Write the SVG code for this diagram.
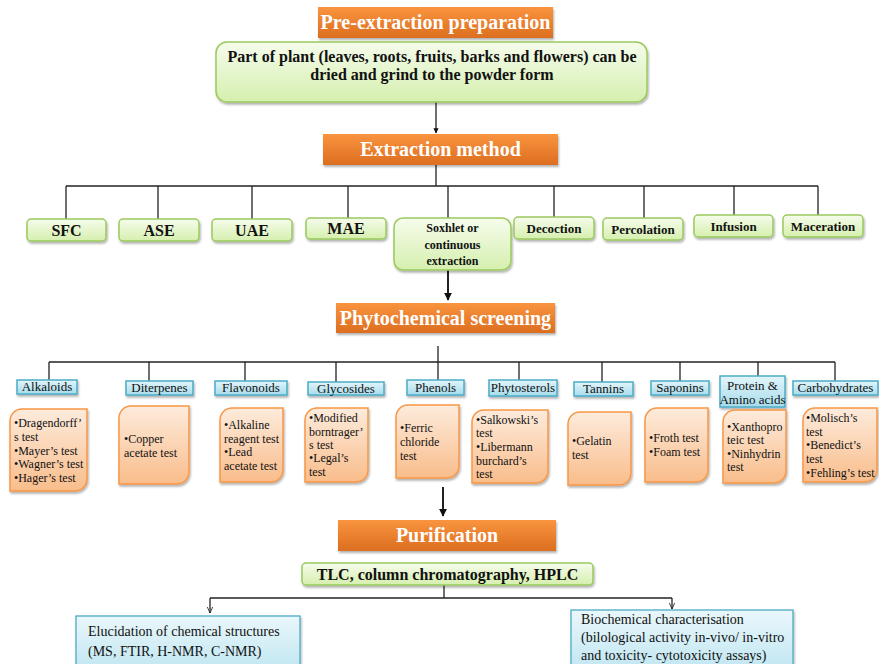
<svg xmlns="http://www.w3.org/2000/svg" width="879" height="664" viewBox="0 0 879 664" font-family="'Liberation Serif', 'Times New Roman', 'DejaVu Serif', serif">
  <defs>
    <linearGradient id="gOrange" x1="0" y1="0" x2="0" y2="1">
      <stop offset="0" stop-color="#F9943F"/>
      <stop offset="1" stop-color="#DC6E20"/>
    </linearGradient>
    <linearGradient id="gGreen" x1="0" y1="0" x2="0" y2="1">
      <stop offset="0" stop-color="#F6FCEC"/>
      <stop offset="1" stop-color="#D5EFAE"/>
    </linearGradient>
    <linearGradient id="gBlue" x1="0" y1="0" x2="0" y2="1">
      <stop offset="0" stop-color="#E3F5FA"/>
      <stop offset="1" stop-color="#A6DCEC"/>
    </linearGradient>
    <linearGradient id="gPeach" x1="0" y1="0" x2="0" y2="1">
      <stop offset="0" stop-color="#FDEBDC"/>
      <stop offset="1" stop-color="#F9BD8B"/>
    </linearGradient>
    <linearGradient id="gCyan" x1="0" y1="0" x2="0" y2="1">
      <stop offset="0" stop-color="#EAF7FB"/>
      <stop offset="1" stop-color="#C2E7F2"/>
    </linearGradient>
    <filter id="shadow" x="-10%" y="-20%" width="125%" height="150%">
      <feDropShadow dx="1" dy="2" stdDeviation="1.2" flood-color="#000" flood-opacity="0.3"/>
    </filter>
    <marker id="arrow" viewBox="0 0 10 10" refX="9" refY="5" markerWidth="4" markerHeight="4" orient="auto">
      <path d="M0,0 L10,5 L0,10 Z" fill="#111"/>
    </marker>
    <marker id="openArrow" viewBox="0 0 10 10" refX="9" refY="5" markerWidth="7" markerHeight="7" orient="auto" markerUnits="userSpaceOnUse">
      <path d="M0,1 L9,5 L0,9" fill="none" stroke="#222" stroke-width="1.2"/>
    </marker>
    <style>
      text { font-family: "Liberation Serif", "Times New Roman", "DejaVu Serif", serif; }
      .hdr { fill: url(#gOrange); filter: url(#shadow); }
      .hdrText { font-weight: bold; font-size: 20px; fill: #fff; text-anchor: middle; }
      .green { fill: url(#gGreen); stroke: #9BC95E; stroke-width: 1.5; filter: url(#shadow); }
      .greenText { font-weight: bold; fill: #111; text-anchor: middle; }
      .cls { fill: url(#gBlue); stroke: #4BACC6; stroke-width: 1.5; filter: url(#shadow); }
      .clsText { font-size: 13px; fill: #111; text-anchor: middle; }
      .test { fill: url(#gPeach); stroke: #F79646; stroke-width: 1.5; filter: url(#shadow); }
      .testText { font-size: 12px; fill: #111; }
      .out { fill: url(#gCyan); stroke: #4BACC6; stroke-width: 1.3; filter: url(#shadow); }
      .outText { font-size: 14px; fill: #111; }
      .wire { stroke: #222; stroke-width: 1.3; fill: none; }
      .wireBold { stroke: #222; stroke-width: 2; fill: none; }
    </style>
  </defs>

  <rect width="879" height="664" fill="#fff"/>

  <!-- connectors -->
  <g id="connectors">
    <line class="wire" x1="436" y1="102" x2="436" y2="133" marker-end="url(#arrow)" stroke-width="1.6"/>
    <line class="wire" x1="436" y1="165" x2="436" y2="186"/>
    <line class="wire" x1="66" y1="186" x2="818" y2="186"/>
    <line class="wire" x1="66" y1="186" x2="66" y2="219"/>
    <line class="wire" x1="158" y1="186" x2="158" y2="219"/>
    <line class="wire" x1="252" y1="186" x2="252" y2="219"/>
    <line class="wire" x1="348" y1="186" x2="348" y2="218"/>
    <line class="wire" x1="448" y1="186" x2="448" y2="218"/>
    <line class="wire" x1="554" y1="186" x2="554" y2="217"/>
    <line class="wire" x1="644" y1="186" x2="644" y2="218"/>
    <line class="wire" x1="734" y1="186" x2="734" y2="215"/>
    <line class="wire" x1="818" y1="186" x2="818" y2="215"/>
    <line class="wireBold" x1="448" y1="270" x2="448" y2="300" marker-end="url(#arrow)"/>
    <line class="wire" x1="438" y1="346" x2="438" y2="362"/>
    <line class="wire" x1="49" y1="362" x2="835" y2="362"/>
    <line class="wire" x1="49" y1="362" x2="49" y2="380"/>
    <line class="wire" x1="149" y1="362" x2="149" y2="381"/>
    <line class="wire" x1="245" y1="362" x2="245" y2="381"/>
    <line class="wire" x1="336" y1="362" x2="336" y2="382"/>
    <line class="wire" x1="438" y1="362" x2="438" y2="380"/>
    <line class="wire" x1="519" y1="362" x2="519" y2="380"/>
    <line class="wire" x1="602" y1="362" x2="602" y2="382"/>
    <line class="wire" x1="680" y1="362" x2="680" y2="381"/>
    <line class="wire" x1="758" y1="362" x2="758" y2="376"/>
    <line class="wire" x1="835" y1="362" x2="835" y2="381"/>
    <line class="wireBold" x1="443" y1="487" x2="443" y2="516" marker-end="url(#arrow)"/>
    <line class="wire" x1="444" y1="585" x2="444" y2="598"/>
    <line class="wire" x1="210" y1="598" x2="672" y2="598"/>
    <line class="wire" x1="210" y1="598" x2="210" y2="613" marker-end="url(#openArrow)"/>
    <line class="wire" x1="672" y1="598" x2="672" y2="609" marker-end="url(#openArrow)"/>
  </g>

  <!-- stage headers -->
  <g id="pre-extraction">
    <rect class="hdr" x="318" y="7" width="235" height="31"/>
    <text class="hdrText" x="435.5" y="29">Pre-extraction preparation</text>
  </g>
  <g id="plant-part">
    <rect class="green" x="216" y="42" width="431" height="60" rx="11"/>
    <text class="greenText" font-size="16" x="432" y="62">Part of plant (leaves, roots, fruits, barks and flowers) can be</text>
    <text class="greenText" font-size="16" x="432" y="80">dried and grind to the powder form</text>
  </g>
  <g id="extraction-method">
    <rect class="hdr" x="323" y="134" width="235" height="31"/>
    <text class="hdrText" x="440.5" y="156">Extraction method</text>
  </g>

  <!-- extraction techniques -->
  <g id="sfc"><rect class="green" x="27" y="219" width="79" height="22" rx="4"/><text class="greenText" font-size="16" x="66.5" y="236">SFC</text></g>
  <g id="ase"><rect class="green" x="119" y="219" width="80" height="22" rx="4"/><text class="greenText" font-size="16" x="159" y="236">ASE</text></g>
  <g id="uae"><rect class="green" x="212" y="219" width="80" height="22" rx="4"/><text class="greenText" font-size="16" x="252" y="236">UAE</text></g>
  <g id="mae"><rect class="green" x="306" y="218" width="80" height="21" rx="4"/><text class="greenText" font-size="16" x="346" y="234">MAE</text></g>
  <g id="soxhlet">
    <rect class="green" x="394" y="218" width="117" height="52" rx="9"/>
    <text class="greenText" font-size="12" x="452.5" y="232">Soxhlet or</text>
    <text class="greenText" font-size="12" x="452.5" y="249">continuous</text>
    <text class="greenText" font-size="12" x="452.5" y="265">extraction</text>
  </g>
  <g id="decoction"><rect class="green" x="514" y="217" width="80" height="22" rx="4"/><text class="greenText" font-size="13" x="554" y="233">Decoction</text></g>
  <g id="percolation"><rect class="green" x="603" y="218" width="80" height="22" rx="4"/><text class="greenText" font-size="13" x="643" y="234">Percolation</text></g>
  <g id="infusion"><rect class="green" x="694" y="215" width="79" height="22" rx="4"/><text class="greenText" font-size="13" x="733.5" y="231">Infusion</text></g>
  <g id="maceration"><rect class="green" x="783" y="215" width="80" height="22" rx="4"/><text class="greenText" font-size="13" x="823" y="231">Maceration</text></g>

  <g id="phytochemical-screening">
    <rect class="hdr" x="336" y="303" width="219" height="30"/>
    <text class="hdrText" x="445.5" y="325">Phytochemical screening</text>
  </g>

  <!-- compound classes -->
  <g id="alkaloids"><rect class="cls" x="17" y="380" width="60" height="14"/><text class="clsText" font-size="10" x="47" y="391">Alkaloids</text></g>
  <g id="diterpenes"><rect class="cls" x="126" y="381" width="67" height="14"/><text class="clsText" x="159.5" y="392">Diterpenes</text></g>
  <g id="flavonoids"><rect class="cls" x="215" y="381" width="72" height="14"/><text class="clsText" x="251" y="392">Flavonoids</text></g>
  <g id="glycosides"><rect class="cls" x="308" y="382" width="76" height="13"/><text class="clsText" x="346" y="393">Glycosides</text></g>
  <g id="phenols"><rect class="cls" x="407" y="380" width="57" height="15"/><text class="clsText" x="435.5" y="392">Phenols</text></g>
  <g id="phytosterols"><rect class="cls" x="489" y="380" width="68" height="16"/><text class="clsText" x="523" y="392">Phytosterols</text></g>
  <g id="tannins"><rect class="cls" x="574" y="382" width="59" height="14"/><text class="clsText" x="603.5" y="393">Tannins</text></g>
  <g id="saponins"><rect class="cls" x="651" y="381" width="58" height="14"/><text class="clsText" x="680" y="392">Saponins</text></g>
  <g id="protein-amino-acids">
    <rect class="cls" x="720" y="376" width="65" height="31"/>
    <text class="clsText" x="752.5" y="390">Protein &amp;</text>
    <text class="clsText" x="752.5" y="404">Amino acids</text>
  </g>
  <g id="carbohydrates"><rect class="cls" x="793" y="381" width="85" height="14"/><text class="clsText" x="835.5" y="392">Carbohydrates</text></g>

  <!-- screening tests -->
  <g id="alkaloid-tests">
    <path class="test" d="M22,409 H87 V479 A12,12 0 0 1 75,491 H10 V421 A12,12 0 0 1 22,409 Z"/>
    <text class="testText" x="14" y="427">•Dragendorff’</text>
    <text class="testText" x="14" y="441">s test</text>
    <text class="testText" x="14" y="455">•Mayer’s test</text>
    <text class="testText" x="14" y="468">•Wagner’s test</text>
    <text class="testText" x="14" y="482">•Hager’s test</text>
  </g>
  <g id="diterpene-tests">
    <path class="test" d="M131,406 H189 V472 A12,12 0 0 1 177,484 H119 V418 A12,12 0 0 1 131,406 Z"/>
    <text class="testText" x="124" y="443">•Copper</text>
    <text class="testText" x="124" y="457">acetate test</text>
  </g>
  <g id="flavonoid-tests">
    <path class="test" d="M232,408 H283 V470 A12,12 0 0 1 271,482 H220 V420 A12,12 0 0 1 232,408 Z"/>
    <text class="testText" x="224" y="429">•Alkaline</text>
    <text class="testText" x="224" y="443">reagent test</text>
    <text class="testText" x="224" y="456">•Lead</text>
    <text class="testText" x="224" y="470">acetate test</text>
  </g>
  <g id="glycoside-tests">
    <path class="test" d="M317,408 H368 V470 A12,12 0 0 1 356,482 H305 V420 A12,12 0 0 1 317,408 Z"/>
    <text class="testText" x="309" y="422">•Modified</text>
    <text class="testText" x="309" y="436">borntrager’</text>
    <text class="testText" x="309" y="449">s test</text>
    <text class="testText" x="309" y="462">•Legal’s</text>
    <text class="testText" x="309" y="476">test</text>
  </g>
  <g id="phenol-tests">
    <path class="test" d="M408,405 H459 V466 A12,12 0 0 1 447,478 H396 V417 A12,12 0 0 1 408,405 Z"/>
    <text class="testText" x="400" y="432">•Ferric</text>
    <text class="testText" x="400" y="446">chloride</text>
    <text class="testText" x="400" y="460">test</text>
  </g>
  <g id="phytosterol-tests">
    <path class="test" d="M484,410 H548 V471 A12,12 0 0 1 536,483 H472 V422 A12,12 0 0 1 484,410 Z"/>
    <text class="testText" x="476" y="424">•Salkowski’s</text>
    <text class="testText" x="476" y="437">test</text>
    <text class="testText" x="476" y="451">•Libermann</text>
    <text class="testText" x="476" y="465">burchard’s</text>
    <text class="testText" x="476" y="478">test</text>
  </g>
  <g id="tannin-tests">
    <path class="test" d="M580,412 H631 V473 A12,12 0 0 1 619,485 H568 V424 A12,12 0 0 1 580,412 Z"/>
    <text class="testText" x="572" y="445">•Gelatin</text>
    <text class="testText" x="572" y="459">test</text>
  </g>
  <g id="saponin-tests">
    <path class="test" d="M657,408 H708 V470 A12,12 0 0 1 696,482 H645 V420 A12,12 0 0 1 657,408 Z"/>
    <text class="testText" x="649" y="442">•Froth test</text>
    <text class="testText" x="649" y="456">•Foam test</text>
  </g>
  <g id="protein-tests">
    <path class="test" d="M735,410 H786 V471 A12,12 0 0 1 774,483 H723 V422 A12,12 0 0 1 735,410 Z"/>
    <text class="testText" x="727" y="431">•Xanthopro</text>
    <text class="testText" x="727" y="444">teic test</text>
    <text class="testText" x="727" y="458">•Ninhydrin</text>
    <text class="testText" x="727" y="471">test</text>
  </g>
  <g id="carbohydrate-tests">
    <path class="test" d="M815,408 H877 V470 A12,12 0 0 1 865,482 H803 V420 A12,12 0 0 1 815,408 Z"/>
    <text class="testText" x="806" y="422">•Molisch’s</text>
    <text class="testText" x="806" y="436">test</text>
    <text class="testText" x="806" y="449">•Benedict’s</text>
    <text class="testText" x="806" y="463">test</text>
    <text class="testText" x="806" y="477">•Fehling’s test</text>
  </g>

  <g id="purification">
    <rect class="hdr" x="338" y="520" width="218" height="31"/>
    <text class="hdrText" x="447" y="542">Purification</text>
  </g>
  <g id="chromatography">
    <rect class="green" x="302" y="563" width="291" height="22" rx="4"/>
    <text class="greenText" font-size="16" x="447.5" y="580">TLC, column chromatography, HPLC</text>
  </g>

  <!-- outcomes -->
  <g id="structure-elucidation">
    <rect class="out" x="76" y="616" width="224" height="52"/>
    <text class="outText" x="88" y="636">Elucidation of chemical structures</text>
    <text class="outText" x="88" y="656">(MS, FTIR, H-NMR, C-NMR)</text>
  </g>
  <g id="biochemical-characterisation">
    <rect class="out" x="571" y="610" width="222" height="58"/>
    <text class="outText" x="581" y="624">Biochemical characterisation</text>
    <text class="outText" x="581" y="642">(bilological activity in-vivo/ in-vitro</text>
    <text class="outText" x="581" y="660">and toxicity- cytotoxicity assays)</text>
  </g>
</svg>
